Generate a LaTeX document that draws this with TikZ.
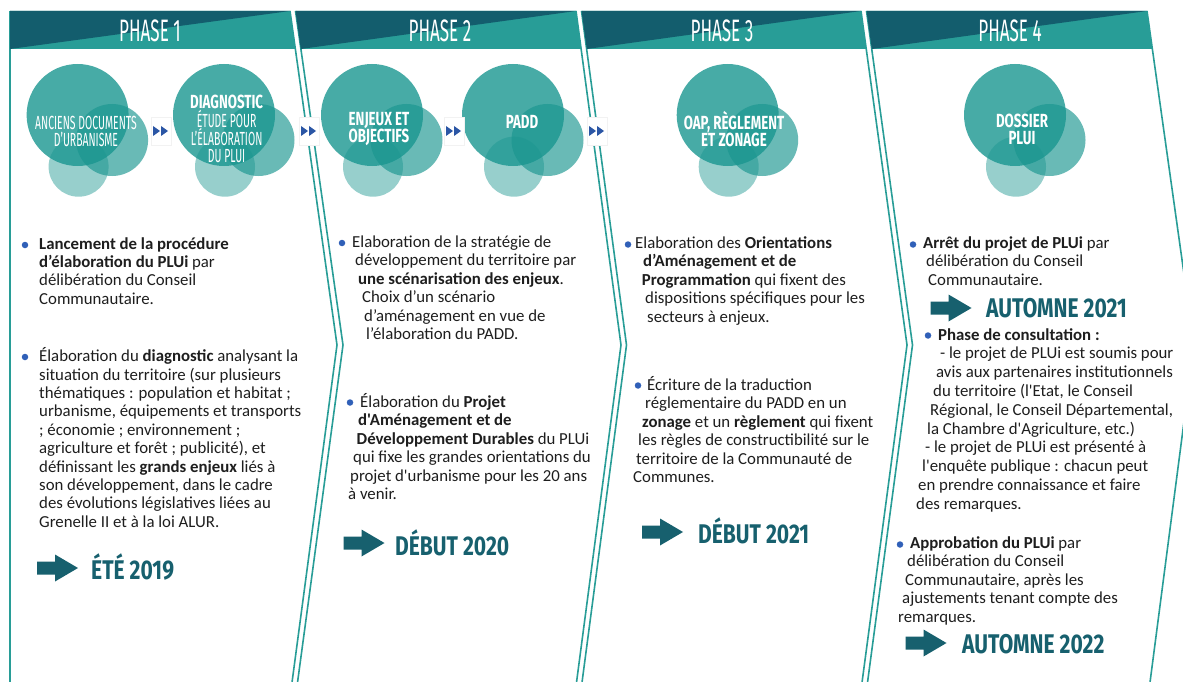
\documentclass[tikz,border=0pt]{standalone}
\usepackage{fontspec}
\setmainfont{Carlito}[Ligatures=TeXOff]
\newfontfamily\thinfont{Fira Sans}[FakeStretch=0.55]
\newfontfamily\boldfont{Fira Sans}[FakeStretch=0.7]
\newfontfamily\datefont{Fira Sans}[FakeStretch=0.78]

\definecolor{tealdark}{HTML}{135D6D}
\definecolor{teallight}{HTML}{289D97}
\definecolor{tealcirc}{HTML}{1A9690}
\definecolor{datecol}{HTML}{17606E}
\definecolor{dotblue}{HTML}{3060B8}
\definecolor{bodytext}{HTML}{1E1E1E}

\tikzset{
  bigc/.style={fill=tealcirc,fill opacity=0.8},
  rightc/.style={fill=tealcirc,fill opacity=0.65},
  botc/.style={fill=tealcirc,fill opacity=0.45},
  phase/.style={text=white,inner sep=0,font=\thinfont\fontsize{31}{31}\selectfont},
  clight/.style={text=white,inner sep=0,align=center,font=\thinfont\fontsize{19}{17}\selectfont},
  cbold/.style={text=white,inner sep=0,align=center,font=\boldfont\bfseries\fontsize{19}{17}\selectfont},
  line/.style={anchor=base west,inner sep=0,text=bodytext,font=\fontsize{16.8}{18}\selectfont},
  dot/.style={circle,fill=dotblue,inner sep=0,minimum size=6.5pt},
  datetext/.style={anchor=base west,inner sep=0,text=datecol,
    font=\datefont\bfseries\fontsize{27}{27}\selectfont},
  border/.style={draw=teallight,line width=1.6pt},
  fwdbox/.style={fill=white,draw=black!5,minimum width=20pt,minimum height=28pt,inner sep=0},
  fwd/.pic={\fill[dotblue!90!black] (-8,-5) -- (-1,0) -- (-8,5) -- cycle
    (0,-5) -- (7,0) -- (0,5) -- cycle;},
  datearr/.pic={\fill[datecol] (-20.5,-6.5) -- (-2.5,-6.5) -- (-2.5,-13.5) -- (20.5,0)
    -- (-2.5,13.5) -- (-2.5,6.5) -- (-20.5,6.5) -- cycle;}
}

\begin{document}
\begin{tikzpicture}[x=1pt,y=-1pt]
\useasboundingbox (0,0) rectangle (1183,682);
\clip (0,0) rectangle (1183,682);
\fill[white] (0,0) rectangle (1183,682);

% panel borders
\draw[border] (10,11) -- (10,690);
\draw[border] (290,11) -- (337,345) -- (291,690);
\draw[border] (295.5,11) -- (343,345) -- (296.5,690);
\draw[border] (576,11) -- (621,345) -- (575.5,690);
\draw[border] (581.5,11) -- (626.5,345) -- (581,690);
\draw[border] (861,11) -- (907,345) -- (861,690);
\draw[border] (866.5,11) -- (912.5,345) -- (866.5,690);
\draw[border] (1147,11) -- (1194,345) -- (1149,690);

% header bands
\fill[teallight] (10,11) -- (290,11) -- (295.3,49) -- (10,49) -- cycle;
\fill[tealdark] (10,11) -- (290,11) -- (10,49) -- cycle;
\fill[teallight] (295.5,11) -- (576,11) -- (581.3,49) -- (300.8,49) -- cycle;
\fill[tealdark] (295.5,11) -- (576,11) -- (300.8,49) -- cycle;
\fill[teallight] (581.5,11) -- (861,11) -- (866.3,49) -- (586.8,49) -- cycle;
\fill[tealdark] (581.5,11) -- (861,11) -- (586.8,49) -- cycle;
\fill[teallight] (866.5,11) -- (1147,11) -- (1152.3,49) -- (871.8,49) -- cycle;
\fill[tealdark] (866.5,11) -- (1147,11) -- (871.8,49) -- cycle;
\draw
  (150,31) node[phase] (ph1){PHASE 1}
  (440,31) node[phase] (ph2){PHASE 2}
  (722,31) node[phase] (ph3){PHASE 3}
  (1010,31) node[phase] (ph4){PHASE 4};

% circles
\foreach \cx in {77.6,224,372,513,727.7,1015} {
  \fill[bigc] (\cx,115) circle (51pt);
  \fill[rightc] (\cx+34.5,140) circle (36pt);
  \fill[botc] (\cx+1,166.7) circle (30pt);
}
\node[clight] (c1) at (86,131.5) {ANCIENS DOCUMENTS\\D’URBANISME};
\node[cbold] (c2) at (226.6,129) {DIAGNOSTIC\\{\thinfont\mdseries ÉTUDE POUR}\\{\thinfont\mdseries L’ÉLABORATION}\\{\thinfont\mdseries DU PLUI}};
\node[cbold] (c3) at (379,129) {ENJEUX ET\\OBJECTIFS};
\node[cbold] (c4) at (522,121.5) {PADD};
\node[cbold] (c5) at (734,129.5) {OAP, RÈGLEMENT\\ET ZONAGE};
\node[cbold] (c6) at (1022,129.5) {DOSSIER\\PLUI};

% forward marks
\foreach \fx [count=\n] in {161,309,454,597} {
  \node[fwdbox] (f\n) at (\fx,131) {};
  \pic at (f\n) {fwd};
}

% phase 1
\node[dot] (b1) at (25,245) {};
\foreach \x/\y/\txt [count=\n] in {
  39/249.3/{\textbf{Lancement de la procédure}},
  39/267.6/{\textbf{d’élaboration du PLUi} par},
  39/285.9/{délibération du Conseil},
  39/304.2/{Communautaire.}}
  \node[line] (la\n) at (\x,\y) {\txt};
\node[dot] (b2) at (25,357) {};
\foreach \x/\y/\txt [count=\n] in {
  39/361.7/{Élaboration du \textbf{diagnostic} analysant la},
  39/380.1/{situation du territoire (sur plusieurs},
  39/398.5/{thématiques : population et habitat ;},
  39/416.9/{urbanisme, équipements et transports},
  39/435.3/{; économie ; environnement ;},
  39/453.7/{agriculture et forêt ; publicité), et},
  39/472.1/{définissant les \textbf{grands enjeux} liés à},
  39/490.5/{son développement, dans le cadre},
  39/508.9/{des évolutions législatives liées au},
  39/527.3/{Grenelle II et à la loi ALUR.}}
  \node[line] (lb\n) at (\x,\y) {\txt};
\coordinate (a1) at (57.5,568);
\pic at (a1) {datearr};
\node[datetext] (d1) at (91,579) {ÉTÉ 2019};

% phase 2
\node[dot] (b3) at (342,243) {};
\foreach \x/\y/\txt [count=\n] in {
  352/247/{Elaboration de la stratégie de},
  355/265.5/{développement du territoire par},
  358/284/{\textbf{une scénarisation des enjeux}.},
  362/302.5/{Choix d’un scénario},
  364/321/{d’aménagement en vue de},
  366/339.5/{l’élaboration du PADD.}}
  \node[line] (lc\n) at (\x,\y) {\txt};
\node[dot] (b4) at (350,402.5) {};
\foreach \x/\y/\txt [count=\n] in {
  360/407/{Élaboration du \textbf{Projet}},
  358/425.5/{\textbf{d'Aménagement et de}},
  356.5/444/{\textbf{Développement Durables} du PLUi},
  353/462.5/{qui fixe les grandes orientations du},
  350/481/{projet d'urbanisme pour les 20 ans},
  348/499.5/{à venir.}}
  \node[line] (ld\n) at (\x,\y) {\txt};
\coordinate (a2) at (364,543);
\pic at (a2) {datearr};
\node[datetext] (d2) at (395,555) {DÉBUT 2020};

% phase 3
\node[dot] (b5) at (628,244.5) {};
\foreach \x/\y/\txt [count=\n] in {
  635/248/{Elaboration des \textbf{Orientations}},
  643/266.5/{\textbf{d’Aménagement et de}},
  641.7/285/{\textbf{Programmation} qui fixent des},
  645/303.5/{dispositions spécifiques pour les},
  647/322/{secteurs à enjeux.}}
  \node[line] (le\n) at (\x,\y) {\txt};
\node[dot] (b6) at (638,385.5) {};
\foreach \x/\y/\txt [count=\n] in {
  647/390/{Écriture de la traduction},
  645/408.5/{réglementaire du PADD en un},
  642/427/{\textbf{zonage} et un \textbf{règlement} qui fixent},
  638/445.5/{les règles de constructibilité sur le},
  636/464/{territoire de la Communauté de},
  633/482.5/{Communes.}}
  \node[line] (lf\n) at (\x,\y) {\txt};
\coordinate (a3) at (662.5,532);
\pic at (a3) {datearr};
\node[datetext] (d3) at (698,543) {DÉBUT 2021};

% phase 4
\node[dot] (b7) at (913,244.5) {};
\foreach \x/\y/\txt [count=\n] in {
  923/248/{\textbf{Arrêt du projet de PLUi} par},
  926/266.5/{délibération du Conseil},
  928/285/{Communautaire.}}
  \node[line] (lg\n) at (\x,\y) {\txt};
\coordinate (a4) at (951,308);
\pic at (a4) {datearr};
\node[datetext] (d4) at (986,317) {AUTOMNE 2021};
\node[dot] (b8) at (928,335.5) {};
\foreach \x/\y/\txt [count=\n] in {
  938/340/{\textbf{Phase de consultation :}},
  940/358.8/{- le projet de PLUi est soumis pour},
  936/377.6/{avis aux partenaires institutionnels},
  933/396.4/{du territoire (l'Etat, le Conseil},
  930/415.2/{Régional, le Conseil Départemental,},
  927/434/{la Chambre d'Agriculture, etc.)},
  925/452.8/{- le projet de PLUi est présenté à},
  922/471.6/{l'enquête publique : chacun peut},
  918/490.4/{en prendre connaissance et faire},
  916/509.2/{des remarques.}}
  \node[line] (lh\n) at (\x,\y) {\txt};
\node[dot] (b9) at (900,544.5) {};
\foreach \x/\y/\txt [count=\n] in {
  910/548/{\textbf{Approbation du PLUi} par},
  907/566.5/{délibération du Conseil},
  905/585/{Communautaire, après les},
  902/603.5/{ajustements tenant compte des},
  898/622/{remarques.}}
  \node[line] (li\n) at (\x,\y) {\txt};
\coordinate (a5) at (926,643);
\pic at (a5) {datearr};
\node[datetext] (d5) at (962,653) {AUTOMNE 2022};
\end{tikzpicture}
\end{document}
